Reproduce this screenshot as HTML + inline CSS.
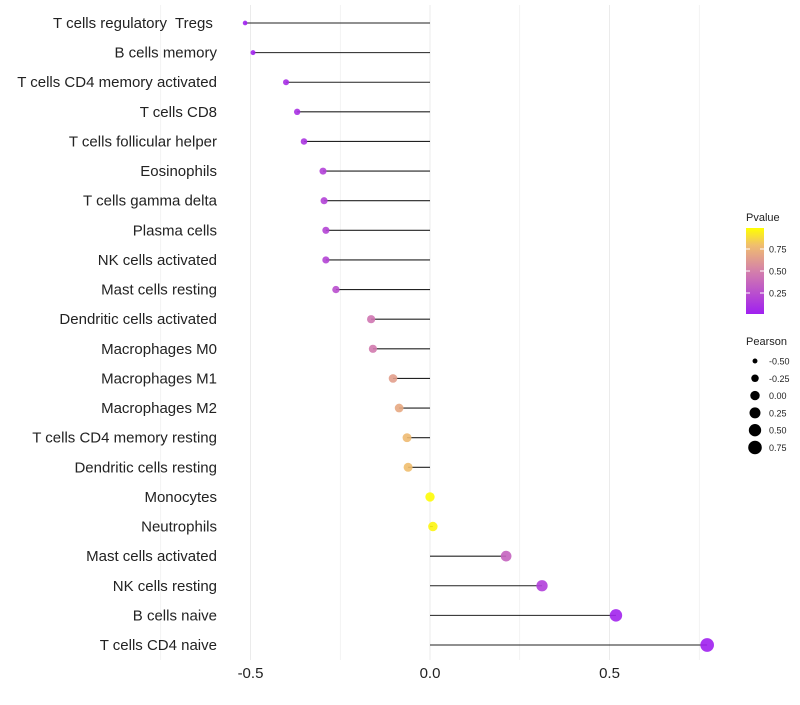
<!DOCTYPE html>
<html><head><meta charset="utf-8"><style>
body{margin:0;background:#fff;font-family:"Liberation Sans",sans-serif}
text{white-space:pre}
</style></head><body>
<svg id="c" width="800" height="700" xmlns="http://www.w3.org/2000/svg"></svg>
<script>
const categories=["T cells regulatory  Tregs ","B cells memory","T cells CD4 memory activated","T cells CD8","T cells follicular helper","Eosinophils","T cells gamma delta","Plasma cells","NK cells activated","Mast cells resting","Dendritic cells activated","Macrophages M0","Macrophages M1","Macrophages M2","T cells CD4 memory resting","Dendritic cells resting","Monocytes","Neutrophils","Mast cells activated","NK cells resting","B cells naive","T cells CD4 naive"];
const pearson=[-0.515,-0.493,-0.401,-0.370,-0.351,-0.298,-0.295,-0.290,-0.290,-0.262,-0.164,-0.159,-0.103,-0.086,-0.064,-0.061,0.0,0.008,0.212,0.312,0.518,0.772];
const pvalues=[0.01,0.02,0.07,0.09,0.11,0.17,0.18,0.19,0.19,0.24,0.45,0.47,0.65,0.70,0.78,0.80,0.99,0.97,0.35,0.16,0.02,0.001];
const xTicks=[-0.5,0,0.5];
const xTickLabels=["-0.5","0.0","0.5"];
const pTicks=[0.25,0.5,0.75];
const pTickLabels=["0.25","0.50","0.75"];
const sizeVals=[-0.5,-0.25,0,0.25,0.5,0.75];
const sizeLabels=["-0.50","-0.25","0.00","0.25","0.50","0.75"];

const NS="http://www.w3.org/2000/svg";
const svg=document.getElementById('c');
function mk(t,a){const e=document.createElementNS(NS,t);for(const k in a)e.setAttribute(k,a[k]);svg.appendChild(e);return e;}
const xS=v=>430+v*359;
const yS=i=>23+i*(622/21);
function col(p){
  const stops=[[0,[160,32,240]],[0.5,[212,128,170]],[0.8,[240,190,110]],[1,[255,255,0]]];
  for(let i=1;i<stops.length;i++){if(p<=stops[i][0]){const a=stops[i-1],b=stops[i];const t=(p-a[0])/(b[0]-a[0]);
    return 'rgb('+a[1].map((c,j)=>Math.round(c+(b[1][j]-c)*t)).join(',')+')';}}
  return 'rgb(255,255,0)';
}
const rS=v=>Math.sqrt(Math.max(1,22+32*v));
[-0.75,-0.5,-0.25,0,0.25,0.5,0.75].forEach(v=>{const g=mk('line',{x1:xS(v),x2:xS(v),y1:5,y2:660,stroke:'#ebebeb','stroke-width':Math.abs(v*4)%2==1?0.6:1});
});
xTicks.forEach((v,i)=>{const t=mk('text',{x:xS(v),y:678,'text-anchor':'middle','font-size':15,fill:'#222'});t.textContent=xTickLabels[i];
});
categories.forEach((c,i)=>{
  const y=yS(i);
  const l=mk('text',{x:217,y:y+5,'text-anchor':'end','font-size':15,fill:'#222'});l.textContent=c;
  
  const s=mk('line',{x1:xS(0),x2:xS(pearson[i]),y1:y,y2:y,stroke:'#222','stroke-width':1.1});
  
  const p=mk('circle',{cx:xS(pearson[i]),cy:y,r:rS(pearson[i]),fill:col(pvalues[i]),'fill-opacity':0.9});
  
});
const lt=mk('text',{x:746,y:221,'font-size':11,fill:'#222'});lt.textContent='Pvalue';

const defs=mk('defs',{});const gr=document.createElementNS(NS,'linearGradient');gr.setAttribute('id','g');gr.setAttribute('x1',0);gr.setAttribute('x2',0);gr.setAttribute('y1',1);gr.setAttribute('y2',0);defs.appendChild(gr);
for(let k=0;k<=10;k++){const s=document.createElementNS(NS,'stop');s.setAttribute('offset',k/10);s.setAttribute('stop-color',col(k/10));gr.appendChild(s);}
const pY=p=>315-p*88;
const bar=mk('rect',{x:746,y:228,width:18,height:86,fill:'url(#g)'});

pTicks.forEach((v,i)=>{mk('line',{x1:746,x2:750,y1:pY(v),y2:pY(v),stroke:'#fff'});mk('line',{x1:760,x2:764,y1:pY(v),y2:pY(v),stroke:'#fff'});
const t=mk('text',{x:769,y:pY(v)+3.5,'font-size':9,fill:'#222'});t.textContent=pTickLabels[i];
});
const st=mk('text',{x:746,y:345,'font-size':11,fill:'#222'});st.textContent='Pearson';

sizeVals.forEach((v,i)=>{const y=361+i*17.3;
const c=mk('circle',{cx:755,cy:y,r:rS(v),fill:'#000'});
const t=mk('text',{x:769,y:y+3.5,'font-size':9,fill:'#222'});t.textContent=sizeLabels[i];
});
</script>
</body></html>
